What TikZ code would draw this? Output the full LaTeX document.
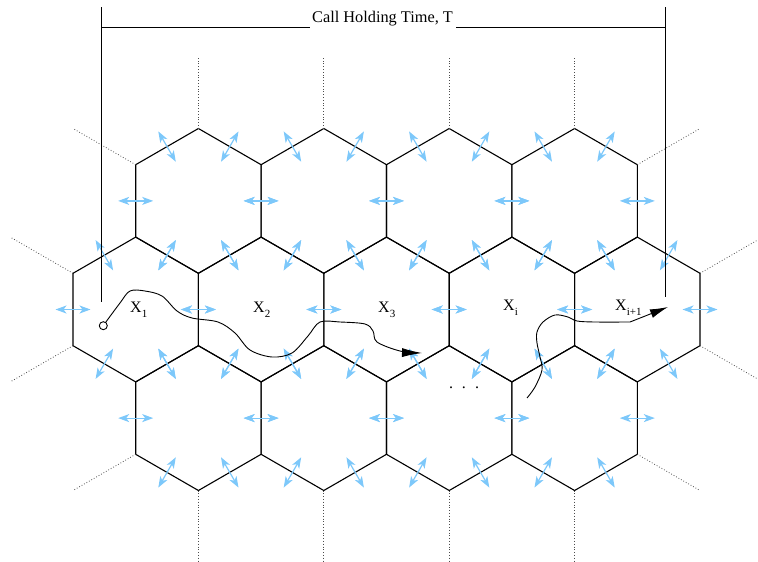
\documentclass[tikz,border=0pt]{standalone}
\usepackage{fontspec}
\setmainfont{Liberation Serif}
\usetikzlibrary{arrows.meta}
\definecolor{cellblue}{RGB}{125,200,250}
\begin{document}
\begin{tikzpicture}[x=1pt,y=-1pt,
  hexedge/.style={line width=1.1pt, line join=miter},
  ext/.style={dotted, line width=0.8pt, black!70},
  flow/.style={cellblue, line width=1.2pt,
    {Stealth[length=11pt,width=8pt,inset=3pt]}-{Stealth[length=11pt,width=8pt,inset=3pt]}},
  spanline/.style={line width=0.9pt},
  lbl/.style={inner sep=0pt, anchor=base west, font=\fontsize{16}{19}\selectfont},
  route/.style={line width=0.9pt}]
\useasboundingbox (0,0) rectangle (758,562);
\def\R{72.4}
\def\W{125.4}
% hexagons
\foreach \cx/\cy in {198.4/200.9, 323.8/200.9, 449.2/200.9, 574.6/200.9,
  135.7/309.5, 261.1/309.5, 386.5/309.5, 511.9/309.5, 637.3/309.5,
  198.4/418.1, 323.8/418.1, 449.2/418.1, 574.6/418.1}{
  \draw[hexedge] (\cx,\cy) +(30:\R) -- +(90:\R) -- +(150:\R) -- +(210:\R)
    -- +(270:\R) -- +(330:\R) -- cycle;
}
% crossing arrows
\foreach \cx/\cy in {198.4/200.9, 323.8/200.9, 449.2/200.9, 574.6/200.9,
  135.7/309.5, 261.1/309.5, 386.5/309.5, 511.9/309.5, 637.3/309.5,
  198.4/418.1, 323.8/418.1, 449.2/418.1, 574.6/418.1}{
  \foreach \a in {0,60,120,180,240,300}{
    \draw[flow] (\cx,\cy) +(\a:{\W/2-17.5}) -- +(\a:{\W/2+17.5});
  }
}
% dotted extensions
\foreach \cx in {198.4,323.8,449.2,574.6}{
  \draw[ext] (\cx,128.5) -- (\cx,56.1);
  \draw[ext] (\cx,490.5) -- (\cx,562.9);
}
\draw[ext] (135.7,164.7) -- (73,128.5);
\draw[ext] (637.3,164.7) -- (700,128.5);
\draw[ext] (73,273.3) -- (10.3,237.1);
\draw[ext] (73,345.7) -- (10.3,381.9);
\draw[ext] (700,273.3) -- (762.7,237.1);
\draw[ext] (700,345.7) -- (762.7,381.9);
\draw[ext] (135.7,454.3) -- (73,490.5);
\draw[ext] (637.3,454.3) -- (700,490.5);
% call holding time
\node[inner sep=0pt, anchor=base, font=\fontsize{16.3}{19}\selectfont] (title) at (382.5,22) {Call Holding Time, T};
\coordinate (tl) at (101,7);
\coordinate (tr) at (665,7);
\coordinate (bl) at (101,302);
\coordinate (br) at (665,297);
\draw[spanline] (tl) -- (bl);
\draw[spanline] (tr) -- (br);
\draw[spanline] (101,27) -- (310,27);
\draw[spanline] (456,27) -- (665,27);
% labels
\newcommand{\sublab}[1]{\raisebox{-5pt}{\fontsize{11}{11}\selectfont #1}}
\node[lbl] (x1) at (130,312) {X\sublab{1}};
\node[lbl] (x2) at (253,312) {X\sublab{2}};
\node[lbl] (x3) at (378,312) {X\sublab{3}};
\node[lbl] (xi) at (503,310) {X\sublab{i}};
\node[lbl] (xi1) at (615,310) {X\sublab{i+1}};
\node[inner sep=0pt, anchor=base, font=\fontsize{16}{19}\selectfont] (dots) at (464,388) {.\hspace{9pt}.\hspace{9pt}.};
% movement paths
\node[draw, circle, inner sep=0pt, minimum size=8pt, line width=0.9pt] (start) at (103.3,325.7) {};
\coordinate (end1) at (422,353);
\coordinate (start2) at (527,398);
\coordinate (end2) at (668,307);
\draw[route,-{Latex[length=20pt,width=9pt]}] plot[smooth,tension=0.55] coordinates {
  (start.55) (120,303) (130,291) (145,291) (162,296) (177,311) (192,318)
  (218,322) (235,333) (250,350) (272,357) (292,353) (308,336) (320,322)
  (340,322) (365,324) (373,331) (377,342) (400,351) (end1)};
\draw[route,-{Latex[length=18pt,width=9pt]}] plot[smooth,tension=0.55] coordinates {
  (start2) (535,387) (542,370) (540,357) (537,343) (537,332) (543,322)
  (555,315) (568,317) (577,321) (595,322) (630,322)} -- (end2);
\end{tikzpicture}
\end{document}
